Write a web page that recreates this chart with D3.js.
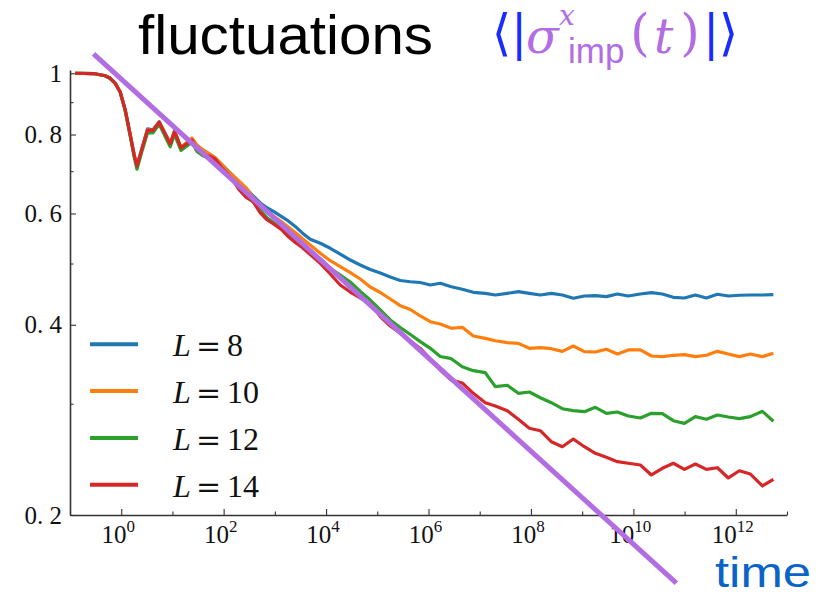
<!DOCTYPE html>
<html><head><meta charset="utf-8">
<script src="https://cdn.jsdelivr.net/npm/d3@7"></script>
<style>body{margin:0;background:#fff}</style>
</head><body><svg id="c" width="822" height="596"></svg>
<script>
// ---- data (log10 of time) ----
const logTime = [-0.898,-0.541,-0.313,-0.215,-0.117,-0.020,0.078,0.176,0.254,0.307,0.404,0.514,0.619,0.742,0.957,1.041,1.166,1.270,1.381,1.479,
1.602,1.719,1.836,1.953,2.070,2.188,2.305,2.441,2.578,2.715,2.852,2.988,3.125,3.262,3.398,3.535,
3.691,3.887,4.082,4.277,4.473,4.668,4.863,5.059,5.254,5.449,5.645,5.840,6.035,6.230,
6.445,6.660,6.875,7.109,7.305,7.539,7.754,7.969,8.184,8.398,8.613,8.828,9.043,9.258,9.473,9.688,9.902,10.137,10.352,10.566,10.781,10.996,11.211,11.426,11.641,11.855,12.070,12.285,12.520,12.734];

const valsL8 = [1.000,0.999,0.991,0.982,0.964,0.934,0.875,0.799,0.742,0.713,0.760,0.817,0.814,0.838,0.774,0.810,0.763,0.774,0.786,0.764,
0.7562,0.7453,0.7346,0.7187,0.7031,0.6879,0.6730,0.6572,0.6395,0.6234,0.6121,0.6033,0.5935,0.5839,0.5723,0.5589,
0.5462,0.5383,0.5285,0.5176,0.5064,0.4973,0.4892,0.4831,0.4760,0.4700,0.4679,0.4666,0.4624,0.4653,
0.4595,0.4552,0.4502,0.4485,0.4458,0.4485,0.4512,0.4485,0.4458,0.4485,0.4458,0.4405,0.4442,0.4447,0.4431,0.4474,0.4442,0.4474,0.4496,0.4474,0.4421,0.4410,0.4458,0.4410,0.4470,0.4442,0.4454,0.4458,0.4458,0.4463];

const valsL10 = [1.000,0.999,0.991,0.982,0.964,0.934,0.875,0.799,0.742,0.713,0.759,0.814,0.812,0.837,0.774,0.809,0.764,0.776,0.790,0.770,
0.7562,0.7453,0.7346,0.7187,0.7018,0.6879,0.6742,0.6584,0.6361,0.6189,0.6055,0.5935,0.5828,0.5712,0.5599,0.5478,
0.5350,0.5190,0.5052,0.4942,0.4835,0.4726,0.4590,0.4499,0.4394,0.4288,0.4229,0.4130,0.4045,0.4012,
0.3949,0.3963,0.3840,0.3807,0.3774,0.3747,0.3738,0.3671,0.3680,0.3666,0.3631,0.3702,0.3626,0.3622,0.3658,0.3596,0.3649,0.3649,0.3570,0.3561,0.3579,0.3587,0.3561,0.3579,0.3631,0.3596,0.3561,0.3596,0.3561,0.3605];

const valsL12 = [1.000,0.999,0.991,0.982,0.964,0.933,0.872,0.795,0.736,0.705,0.752,0.805,0.805,0.830,0.765,0.800,0.755,0.766,0.778,0.752,
0.7398,0.7346,0.7265,0.7081,0.6928,0.6755,0.6560,0.6396,0.6256,0.6078,0.5902,0.5796,0.5712,0.5589,0.5468,0.5369,
0.5234,0.5083,0.4914,0.4795,0.4674,0.4516,0.4377,0.4221,0.4070,0.3960,0.3860,0.3761,0.3671,0.3563,
0.3535,0.3433,0.3384,0.3359,0.3192,0.3209,0.3116,0.3131,0.3066,0.3011,0.2946,0.2925,0.2914,0.2961,0.2897,0.2911,0.2869,0.2848,0.2897,0.2893,0.2820,0.2793,0.2862,0.2835,0.2879,0.2858,0.2841,0.2862,0.2918,0.2814];

const valsL14 = [1.000,0.999,0.991,0.982,0.964,0.934,0.875,0.799,0.742,0.713,0.759,0.813,0.812,0.837,0.773,0.809,0.762,0.773,0.784,0.759,
0.7439,0.7398,0.7318,0.7108,0.6941,0.6767,0.6536,0.6361,0.6264,0.6011,0.5859,0.5764,0.5660,0.5517,0.5398,0.5301,
0.5167,0.5004,0.4813,0.4624,0.4507,0.4410,0.4325,0.4122,0.3982,0.3877,0.3771,0.3669,0.3531,0.3392,
0.3271,0.3235,0.3116,0.3011,0.2975,0.2925,0.2834,0.2743,0.2719,0.2612,0.2565,0.2638,0.2565,0.2504,0.2468,0.2429,0.2415,0.2400,0.2314,0.2371,0.2415,0.2362,0.2408,0.2362,0.2376,0.2289,0.2350,0.2322,0.2223,0.2278];

const seriesNames = ["8","10","12","14"];
const seriesColors = ["#1f77b4","#ff7f0e","#2ca02c","#d62728"];
const seriesVals = [valsL8, valsL10, valsL12, valsL14];

const fitLogTime = [-0.541, 10.84];
const fitValue = [1.0735, 0.156];

const xTickExp = [0,2,4,6,8,10,12];
const xMinorExp = [-1,1,3,5,7,9,11,13];
const yTicks = [1,0.8,0.6,0.4,0.2];
const yTickLabels = ["1","0. 8","0. 6","0. 4","0. 2"];
const yMinor = [0.9,0.7,0.5,0.3];

// ---- chart ----
const svg = d3.select("#c");
const x = d3.scaleLog().domain([1e-1,1e13]).range([70,787]);
const y = d3.scaleLog().domain([0.2,1.012]).range([515,70]);
const axisColor = "#333";
const serif = "'Liberation Serif', 'Times New Roman', serif";
const dserif = "'DejaVu Serif', serif";
const sans = "'Liberation Sans', Arial, sans-serif";

// axes
svg.append("g").attr("transform","translate(0,515)")
  .call(d3.axisBottom(x).tickValues(xTickExp.map(e=>Math.pow(10,e))).tickSizeInner(-6).tickSizeOuter(0).tickFormat(""));
const gxm = svg.append("g").attr("transform","translate(0,515)")
  .call(d3.axisBottom(x).tickValues(xMinorExp.map(e=>Math.pow(10,e))).tickSizeInner(-3.5).tickSizeOuter(0).tickFormat(""));
gxm.select(".domain").remove();
svg.append("g").attr("transform","translate(70,0)")
  .call(d3.axisLeft(y).tickValues(yTicks).tickSizeInner(-6).tickSizeOuter(0).tickFormat(""));
const gym = svg.append("g").attr("transform","translate(70,0)")
  .call(d3.axisLeft(y).tickValues(yMinor).tickSizeInner(-3.5).tickSizeOuter(0).tickFormat(""));
gym.select(".domain").remove();
svg.selectAll(".domain").attr("stroke",axisColor).attr("stroke-width",1.6);
svg.selectAll(".tick line").attr("stroke",axisColor).attr("stroke-width",1.1);

// x tick labels
xTickExp.forEach(e=>{
  const t = svg.append("text").attr("x", x(Math.pow(10,e)) - 3).attr("y",543)
    .attr("text-anchor","middle").attr("font-family",serif).attr("font-size",25).attr("fill","#111");
  t.append("tspan").text("10");
  t.append("tspan").attr("dy",-11).attr("font-size",17).text(String(e));
});
// y tick labels
yTicks.forEach((v,i)=>{
  svg.append("text").attr("x",62).attr("y",y(v)+8.5).attr("text-anchor","end")
    .attr("font-family",serif).attr("font-size",25).attr("fill","#111").text(yTickLabels[i]);
});

// series
const line = d3.line().x((d,i)=>x(Math.pow(10,logTime[i]))).y(d=>y(d));
seriesVals.forEach((vals,k)=>{
  svg.append("path").datum(vals).attr("d",line).attr("fill","none")
    .attr("stroke",seriesColors[k]).attr("stroke-width",3.2).attr("stroke-linejoin","round");
});

// fit line
const purple = "#b26de2";
const fitPts = fitLogTime.map((lt,i)=>[x(Math.pow(10,lt)), y(fitValue[i])]);
svg.append("path").attr("d", d3.line()(fitPts)).attr("stroke",purple).attr("stroke-width",5).attr("fill","none");

// legend
seriesNames.forEach((n,i)=>{
  const ly = 344.3 + i*46.8;
  svg.append("line").attr("x1",90).attr("x2",138).attr("y1",ly).attr("y2",ly)
    .attr("stroke",seriesColors[i]).attr("stroke-width",4);
  svg.append("text").attr("x",173).attr("y",ly+12).attr("font-family",serif).attr("font-style","italic")
    .attr("font-size",32).attr("fill","#111").text("L");
  svg.append("text").attr("x",196).attr("y",ly+12).attr("font-family",dserif)
    .attr("font-size",30).attr("fill","#111").text("=");
  svg.append("text").attr("x",227).attr("y",ly+12).attr("font-family",serif)
    .attr("font-size",32).attr("fill","#111").text(n);
});

// title
svg.append("text").attr("x",138).attr("y",54).attr("font-family",sans)
  .attr("font-size",55).attr("textLength",295).attr("lengthAdjust","spacingAndGlyphs").attr("fill","#000").text("fluctuations");
const blue = "#1a2bff";
const mth = (txt,xx,yy,size,col,opts={})=>{
  const t = svg.append("text").attr("x",xx).attr("y",yy).attr("font-size",size).attr("fill",col)
    .attr("font-family",opts.family||dserif).text(txt);
  if(opts.italic) t.attr("font-style","italic");
  if(opts.anchor) t.attr("text-anchor",opts.anchor);
  return t;
};
mth("\u27E8",501.5,50,50,blue,{anchor:"middle"});
mth("|",519,50,48,blue,{anchor:"middle"});
mth("\u03C3",526,53,48,purple,{italic:true});
mth("x",559,25,28,purple,{italic:true});
mth("imp",568,63,35,purple,{family:sans});
mth("(",640,50,50,purple,{anchor:"middle"});
mth("t",654,53,48,purple,{italic:true});
mth(")",690,50,50,purple,{anchor:"middle"});
mth("|",711,50,48,blue,{anchor:"middle"});
mth("\u27E9",728.5,50,50,blue,{anchor:"middle"});

// axis label
svg.append("text").attr("x",811).attr("y",587).attr("text-anchor","end")
  .attr("font-family",sans).attr("font-size",42).attr("textLength",96).attr("lengthAdjust","spacingAndGlyphs")
  .attr("fill","#0a64c8").text("time");
</script>
</body></html>
